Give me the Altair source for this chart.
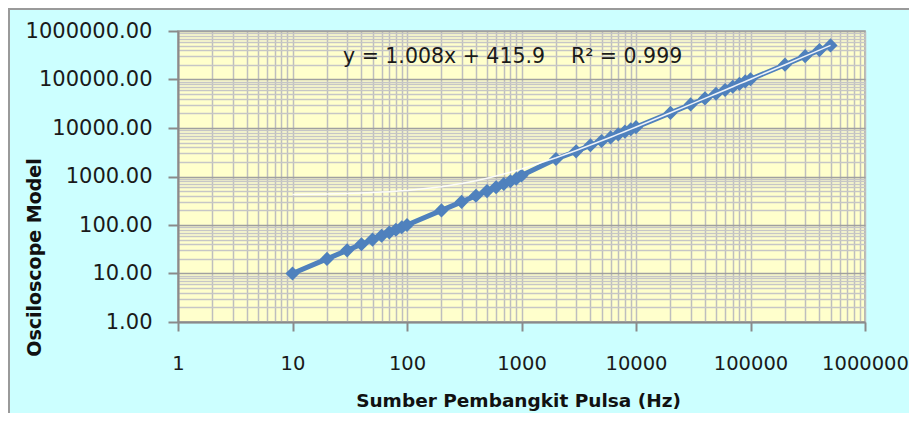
import altair as alt
import pandas as pd

# Data
freq = [10, 20, 30, 40, 50, 60, 70, 80, 90, 100,
        200, 300, 400, 500, 600, 700, 800, 900, 1000,
        2000, 3000, 4000, 5000, 6000, 7000, 8000, 9000, 10000,
        20000, 30000, 40000, 50000, 60000, 70000, 80000, 90000, 100000,
        200000, 300000, 400000, 500000]
osc = [10, 20, 30, 40, 50, 60, 70, 80, 90, 100,
       200, 300, 400, 500, 600, 700, 800, 900, 1050,
       2300, 3300, 4400, 5400, 6400, 7400, 8400, 9400, 10400,
       20500, 30600, 40700, 50800, 60900, 71000, 81100, 91200, 101200,
       202000, 303000, 404000, 505000]

eq_text = ["y = 1.008x + 415.9", "R\u00b2 = 0.999"]
eq_x = [27.6, 2700]
eq_y = [291000, 291000]

major_ticks = [1, 10, 100, 1000, 10000, 100000, 1000000]
grid_vals = [m * 10 ** k for k in range(6) for m in range(1, 10)] + [1000000]

df = pd.DataFrame({"freq": freq, "osc": osc})
ann = pd.DataFrame({"t": eq_text, "x": eq_x, "y": eq_y})

major_test = "indexof([1,10,100,1000,10000,100000,1000000], datum.value) >= 0"

FONT = "DejaVu Sans"

x_scale = alt.Scale(type="log", domain=[1, 1000000], nice=False)
y_scale = alt.Scale(type="log", domain=[1, 1000000], nice=False)

x_axis = alt.Axis(
    values=grid_vals, format="d",
    labelExpr=major_test + " ? datum.label : ''",
    title="Sumber Pembangkit Pulsa (Hz)",
    grid=True,
    gridColor="#bebebe", gridWidth=1.5,
    tickColor={"condition": {"test": major_test, "value": "#8a8a8a"}, "value": "transparent"},
    tickSize=9, tickWidth=2,
    domainColor="#8a8a8a", domainWidth=2,
    labelFont=FONT, labelFontSize=19.5, labelColor="#1a1a1a",
    labelPadding=23, labelBaseline="top", labelFlush=False, labelOverlap=False,
    titleFont=FONT, titleFontSize=18.5, titleFontWeight="bold", titleColor="#111",
    titleX=340, titleY=78, titleBaseline="middle",
)
y_axis = alt.Axis(
    values=grid_vals, format=".2f",
    labelExpr=major_test + " ? datum.label : ''",
    title="Osciloscope Model",
    grid=True,
    gridColor={"condition": {"test": major_test, "value": "#a0a0a0"}, "value": "#c6c6c6"},
    gridWidth=1.5,
    tickColor={"condition": {"test": major_test, "value": "#8a8a8a"}, "value": "transparent"},
    tickSize=10, tickWidth=2,
    domainColor="#8a8a8a", domainWidth=2,
    labelFont=FONT, labelFontSize=21, labelColor="#1a1a1a",
    labelPadding=16, labelBaseline="middle", labelFlush=False, labelOverlap=False,
    titleFont=FONT, titleFontSize=19, titleFontWeight="bold", titleColor="#111",
    titleX=-144, titleY=226, titleBaseline="middle", titleAngle=270,
)

base = alt.Chart(df)

series = base.mark_line(
    color="#4f81bd", strokeWidth=5,
    point=alt.OverlayMarkDef(shape="diamond", size=200, filled=True, color="#4f81bd"),
).encode(
    x=alt.X("freq:Q", scale=x_scale, axis=x_axis),
    y=alt.Y("osc:Q", scale=y_scale, axis=y_axis),
)

trend = base.transform_calculate(
    trend="1.008 * datum.freq + 415.9"
).mark_line(color="white", strokeWidth=1.5, opacity=0.9).encode(
    x="freq:Q", y="trend:Q",
)

eq = alt.Chart(ann).mark_text(
    align="left", baseline="middle", font=FONT, fontSize=20.5, color="#1a1a1a",
).encode(x="x:Q", y="y:Q", text="t:N")

one = alt.Data(values=[{"a": 1}])
border_top = alt.Chart(one).mark_rule(color="#9a9a9a", strokeWidth=2).encode(
    x=alt.value(-170), x2=alt.value(760), y=alt.value(-22)
)
border_left = alt.Chart(one).mark_rule(color="#9a9a9a", strokeWidth=2).encode(
    x=alt.value(-169), y=alt.value(-23), y2=alt.value(400)
)

chart = alt.layer(series, trend, eq, border_top, border_left).properties(
    width=687, height=291,
    autosize=alt.AutoSizeParams(type="none"),
    padding={"left": 170, "top": 23, "right": 44, "bottom": 91},
    background="#ccffff",
).configure_view(
    fill="#ffffcc", stroke="#a0a0a0", strokeWidth=1.5,
)

chart.save("out.html", embed_options={"renderer": "svg", "actions": False})
